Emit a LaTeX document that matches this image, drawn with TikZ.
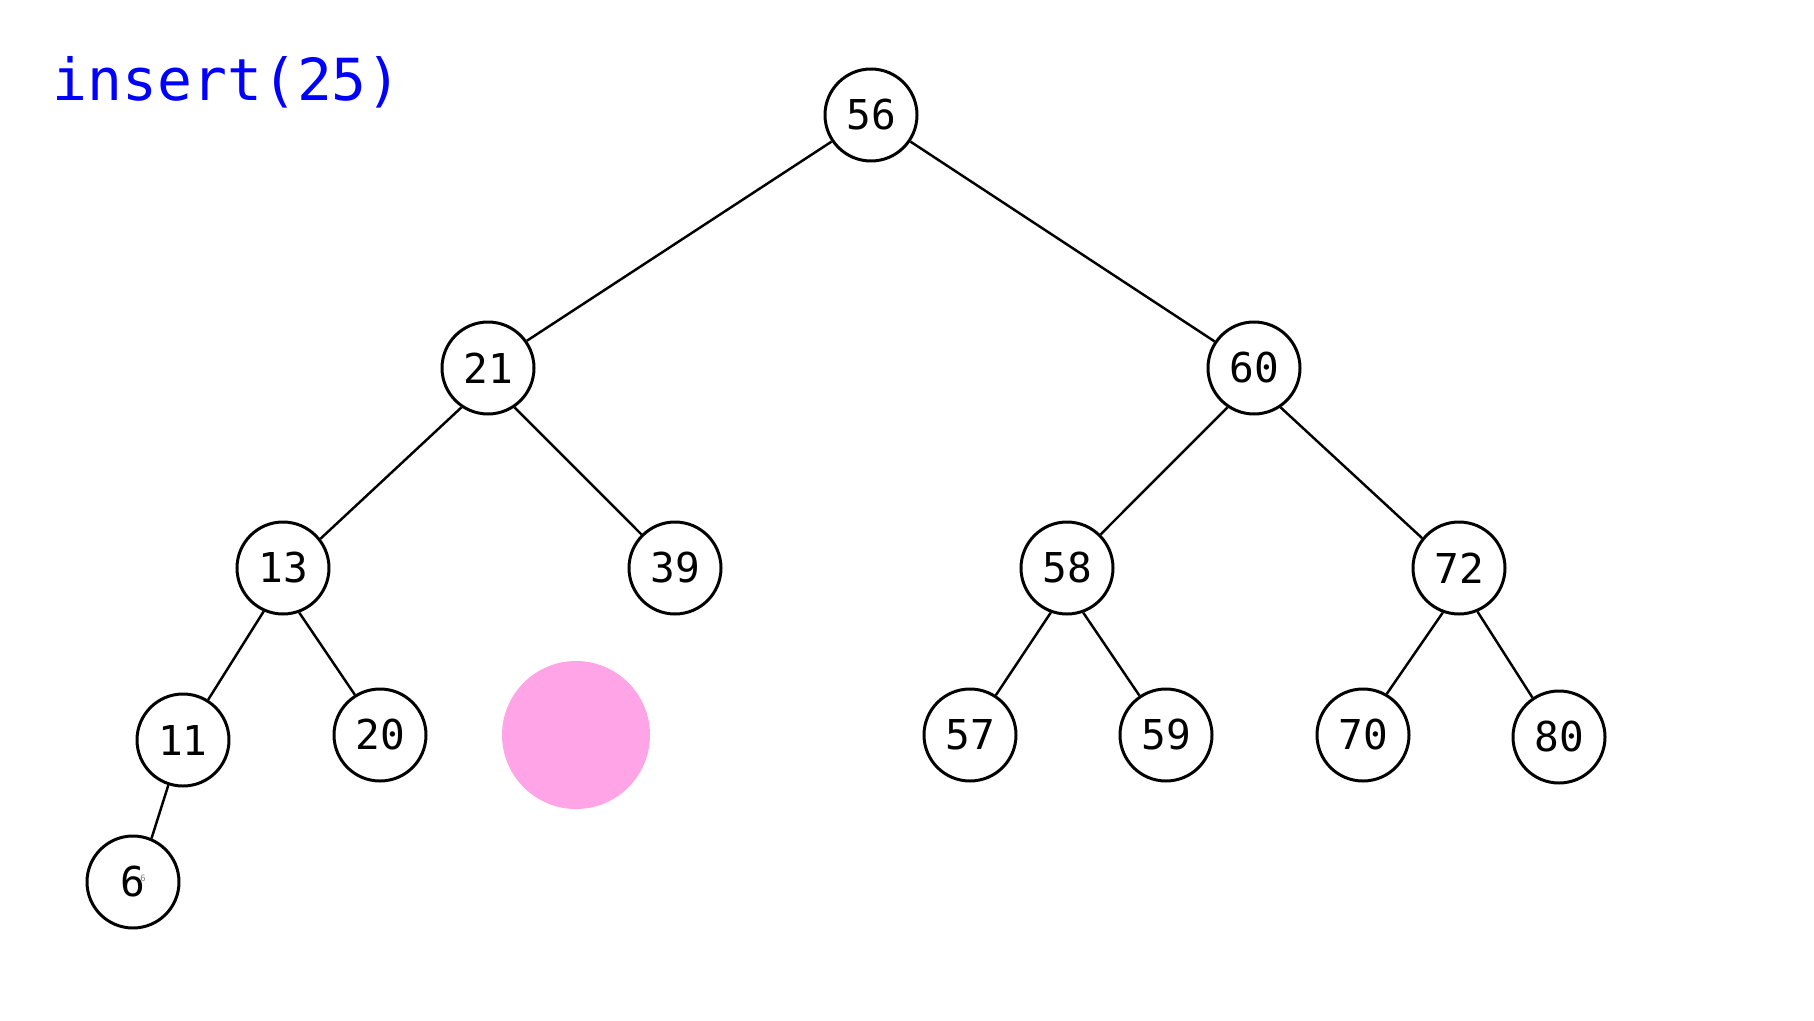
\documentclass[tikz,border=0pt]{standalone}
\usepackage{fontspec}
\setmonofont{DejaVu Sans Mono}
\usetikzlibrary{positioning}
\definecolor{holepink}{RGB}{255,164,230}
\definecolor{callblue}{RGB}{0,0,255}

\begin{document}
\begin{tikzpicture}[
        x=0.1mm, y=-0.1mm,
        key/.style = {circle, draw=black, line width=0.85pt, minimum size=9.2mm, inner sep=0pt, fill=white,
            font=\ttfamily\fontsize{11.7}{14}\selectfont},
        hole/.style = {circle, fill=holepink, minimum size=14.8mm, inner sep=0pt},
        edge/.style = {line width=0.7pt, black},
    ]
        \useasboundingbox (0,0) rectangle (1814,1021);
        % 操作标题
        \node[anchor=base west, inner sep=0pt, text=callblue, font=\ttfamily\fontsize{16.5}{19}\selectfont] (call) at (52,100) {insert(25)};
        % 堆中的结点
        \node[key] (K56) at (871,115) {56};
        \node[key] (K21) at (488,368) {21};
        \node[key] (K60) at (1254,368) {60};
        \node[key] (K13) at (283,568) {13};
        \node[key] (K39) at (675,568) {39};
        \node[key] (K58) at (1067,568) {58};
        \node[key] (K72) at (1459,568) {72};
        \node[key] (K11) at (183,740) {11};
        \node[key] (K20) at (380,735) {20};
        \node[hole] (H25) at (576,735) {};
        \node[key] (K57) at (970,735) {57};
        \node[key] (K59) at (1166,735) {59};
        \node[key] (K70) at (1363,735) {70};
        \node[key] (K80) at (1559,737) {80};
        \node[key] (K6) at (133,882) {6};
        \node[text=gray, font=\ttfamily\fontsize{2.5}{3}\selectfont, inner sep=0pt] (ghost) at (143,878) {6};
        % 父子连线: 父/子/父结点出线角度/子结点入线角度
        \foreach \p/\c/\a/\b in {56/21/214/35, 56/60/-34/146,
                21/13/-124/38, 21/39/-56/135, 60/58/-124/45, 60/72/-56/141,
                13/11/-114/58, 13/20/-70/122, 58/57/-110/57, 58/59/-70/124,
                72/70/-110/60, 72/80/-67/124, 11/6/-108/67}{
            \draw [edge] (K\p.\a) -- (K\c.\b);
        }
    \end{tikzpicture}
\end{document}
